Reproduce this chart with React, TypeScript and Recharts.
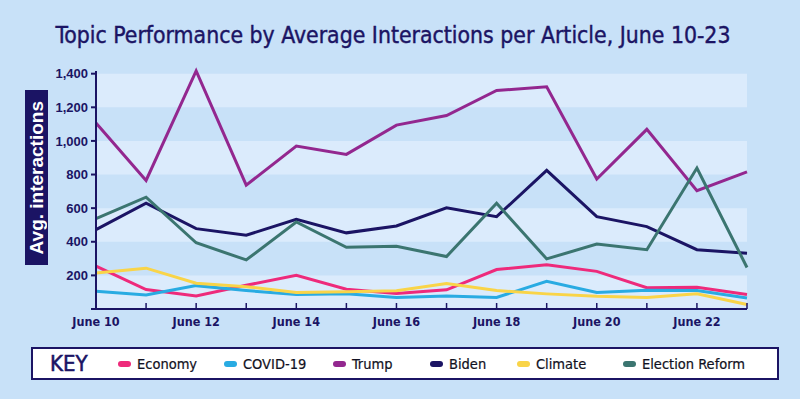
import React from 'react';
import { LineChart, Line, XAxis, YAxis, ReferenceArea } from 'recharts';

const days = ['June 10','June 11','June 12','June 13','June 14','June 15','June 16','June 17','June 18','June 19','June 20','June 21','June 22','June 23'];
const economy = [255,116,78,141,200,118,92,114,235,263,224,127,129,86];
const covid = [106,84,139,110,86,90,69,78,69,165,98,112,110,65];
const trump = [1106,765,1416,737,969,920,1094,1151,1300,1322,773,1069,704,816];
const biden = [472,629,478,439,533,453,494,602,549,825,549,490,353,331];
const climate = [214,243,153,133,98,102,108,151,110,90,76,69,90,27];
const election = [537,665,394,292,518,367,373,312,629,298,386,353,839,247];
const yTicks = [0,200,400,600,800,1000,1200,1400];
const bands = [[0,200],[400,600],[800,1000],[1200,1400]];

const series = [
  { key: 'economy', name: 'Economy', color: '#ee2a7b', values: economy, x: 118 },
  { key: 'covid', name: 'COVID-19', color: '#29abe2', values: covid, x: 224 },
  { key: 'trump', name: 'Trump', color: '#93278f', values: trump, x: 333 },
  { key: 'biden', name: 'Biden', color: '#1b1464', values: biden, x: 430 },
  { key: 'climate', name: 'Climate', color: '#f9d448', values: climate, x: 517 },
  { key: 'election', name: 'Election Reform', color: '#3b7570', values: election, x: 623 },
];

const data = days.map((d, i) => {
  const row: any = { day: d };
  series.forEach(s => { row[s.key] = s.values[i]; });
  return row;
});

const NAVY = '#1b1464';
const BG = '#c8e1f8';
const BAND = '#dbebfc';
const COND = '"DejaVu Sans Condensed", sans-serif';

const TICK_SIZE = 6;
const TICK_MARGIN = 6;

const XTick = (props: any) => {
  const { x, y, index, payload } = props;
  const axisY = y - TICK_SIZE - TICK_MARGIN;
  return (
    <g>
      <line x1={x} x2={x} y1={axisY} y2={axisY - 6} stroke={NAVY} strokeWidth={1.5} />
      {index % 2 === 0 ? (
        <text x={x} y={axisY + 17} textAnchor="middle" fill={NAVY} fontFamily={COND} fontWeight="bold" fontSize={12.5}>
          {payload.value}
        </text>
      ) : null}
    </g>
  );
};

export default function App() {
  return (
    <div style={{ position: 'absolute', left: 0, top: 0, width: 800, height: 399, background: BG, overflow: 'hidden' }}>
      <div style={{ position: 'absolute', left: 0, top: 20, width: 786, textAlign: 'center', color: NAVY, fontFamily: COND, fontSize: 22.8, lineHeight: '30px', WebkitTextStroke: `0.4px ${NAVY}` }}>
        Topic Performance by Average Interactions per Article, June 10-23
      </div>
      <div style={{ position: 'absolute', left: 25, top: 90, width: 23, height: 175, background: NAVY, display: 'flex', alignItems: 'center', justifyContent: 'center' }}>
        <span style={{ writingMode: 'vertical-rl', transform: 'rotate(180deg)', color: '#ffffff', fontFamily: 'Liberation Sans, Arial, sans-serif', fontWeight: 'bold', fontSize: 19, whiteSpace: 'nowrap' }}>
          Avg. interactions
        </span>
      </div>
      <div style={{ position: 'absolute', left: 0, top: 0 }}>
        <LineChart width={800} height={399} data={data} margin={{ top: 71, right: 53, left: 0, bottom: 60 }}>
          {bands.map(([a, b]) => (
            <ReferenceArea key={a} y1={a} y2={b} fill={BAND} fillOpacity={1} stroke="none" ifOverflow="hidden" />
          ))}
          <XAxis
            dataKey="day"
            interval={0}
            height={30}
            axisLine={{ stroke: NAVY, strokeWidth: 2 }}
            tickLine={false}
            tickSize={TICK_SIZE}
            tickMargin={TICK_MARGIN}
            tick={<XTick />}
          />
          <YAxis
            width={96}
            domain={[0, 1400]}
            ticks={yTicks}
            interval={0}
            axisLine={{ stroke: NAVY, strokeWidth: 2 }}
            tickLine={{ stroke: NAVY, strokeWidth: 2 }}
            tickSize={5}
            tickMargin={3}
            tickFormatter={(v: number) => (v === 0 ? '' : v.toLocaleString('en-US'))}
            tick={{ fill: NAVY, fontFamily: 'Liberation Sans, Arial, sans-serif', fontWeight: 'bold', fontSize: 13 }}
          />
          {series.map(s => (
            <Line key={s.key} type="linear" dataKey={s.key} name={s.name} stroke={s.color} strokeWidth={3} dot={false} activeDot={false} isAnimationActive={false} />
          ))}
        </LineChart>
      </div>
      <div style={{ position: 'absolute', left: 31, top: 347, width: 744, height: 29, background: '#ffffff', border: `2px solid ${NAVY}` }}>
        <div style={{ position: 'absolute', left: 17, top: 0, lineHeight: '29px', color: NAVY, fontFamily: COND, fontSize: 22, WebkitTextStroke: `0.5px ${NAVY}` }}>KEY</div>
        {series.map(s => (
          <div key={s.key} style={{ position: 'absolute', left: s.x - 33, top: 0, height: 29, display: 'flex', alignItems: 'center' }}>
            <span style={{ display: 'inline-block', width: 13, height: 6, borderRadius: 3, background: s.color, marginRight: 6 }} />
            <span style={{ color: '#111122', fontFamily: COND, fontSize: 14.5, WebkitTextStroke: '0.2px #111122' }}>{s.name}</span>
          </div>
        ))}
      </div>
    </div>
  );
}
